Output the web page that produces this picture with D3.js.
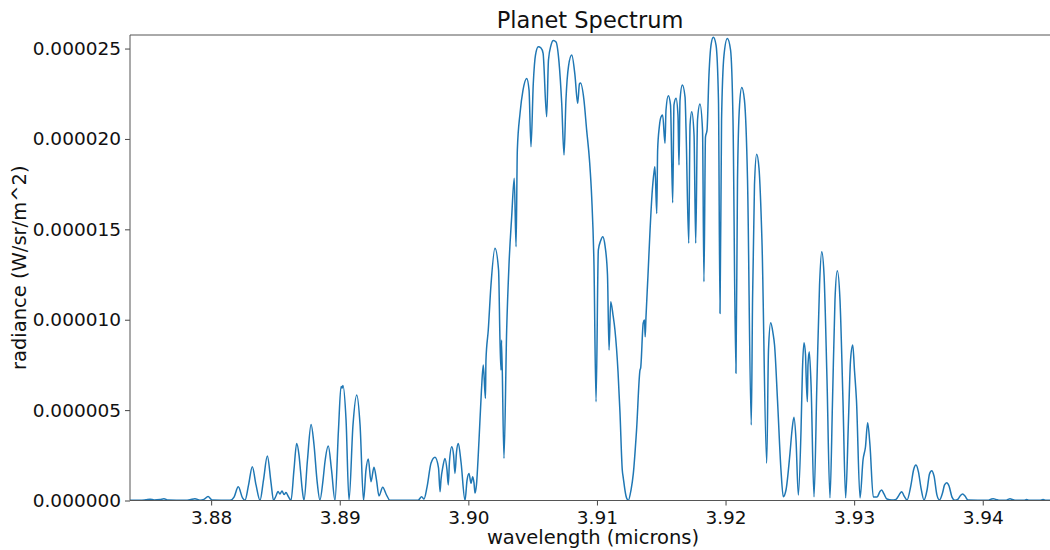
<!DOCTYPE html>
<html lang="en">
<head>
<meta charset="UTF-8">
<title>Planet Spectrum</title>
<script src="https://d3js.org/d3.v7.min.js"></script>
<style>
    body { margin: 0; background: #fff; }
    svg { display: block; font-family: "DejaVu Sans", sans-serif; }
    .tick text { font-family: "DejaVu Sans", sans-serif; font-size: 18.5px; fill: #111; }
    .tick line { stroke: #444; }
</style>
</head>
<body>
<svg width="1050" height="550"></svg>
<script>
    // wavelength (microns)
    const wavelength = [
        3.87369, 3.87447, 3.87493, 3.87525, 3.87556, 3.87602, 3.87633, 3.87665, 3.87797, 3.87836,
        3.87874, 3.87913, 3.87944, 3.87976, 3.88007, 3.88147, 3.88178, 3.88211, 3.88244, 3.88263,
        3.88291, 3.88320, 3.88349, 3.88380, 3.88407, 3.88437, 3.88465, 3.88485, 3.88504, 3.88520,
        3.88535, 3.88551, 3.88567, 3.88582, 3.88598, 3.88621, 3.88644, 3.88665, 3.88683, 3.88695,
        3.88707, 3.88722, 3.88749, 3.88777, 3.88800, 3.88823, 3.88846, 3.88870, 3.88885, 3.88911,
        3.88936, 3.88963, 3.88990, 3.89010, 3.89018, 3.89025, 3.89049, 3.89072, 3.89103, 3.89132,
        3.89158, 3.89185, 3.89204, 3.89222, 3.89243, 3.89266, 3.89286, 3.89305, 3.89334, 3.89360,
        3.89391, 3.89609, 3.89637, 3.89655, 3.89679, 3.89710, 3.89741, 3.89768, 3.89780, 3.89787,
        3.89803, 3.89818, 3.89834, 3.89844, 3.89853, 3.89871, 3.89885, 3.89896, 3.89908, 3.89922,
        3.89943, 3.89974, 3.89990, 3.90005, 3.90021, 3.90034, 3.90044, 3.90052, 3.90063, 3.90083,
        3.90102, 3.90116, 3.90133, 3.90137, 3.90155, 3.90176, 3.90207, 3.90235, 3.90246, 3.90254,
        3.90258, 3.90277, 3.90298, 3.90316, 3.90337, 3.90357, 3.90371, 3.90381, 3.90402, 3.90425,
        3.90454, 3.90472, 3.90487, 3.90505, 3.90522, 3.90544, 3.90565, 3.90581, 3.90609, 3.90623,
        3.90643, 3.90661, 3.90682, 3.90705, 3.90726, 3.90744, 3.90759, 3.90779, 3.90804, 3.90829,
        3.90850, 3.90864, 3.90872, 3.90899, 3.90920, 3.90942, 3.90959, 3.90977, 3.90993, 3.91011,
        3.91028, 3.91045, 3.91063, 3.91082, 3.91094, 3.91107, 3.91125, 3.91140, 3.91164, 3.91179,
        3.91197, 3.91205, 3.91226, 3.91244, 3.91265, 3.91283, 3.91308, 3.91335, 3.91340, 3.91360,
        3.91370, 3.91375, 3.91381, 3.91397, 3.91413, 3.91428, 3.91444, 3.91451, 3.91465, 3.91472,
        3.91485, 3.91498, 3.91511, 3.91529, 3.91537, 3.91555, 3.91572, 3.91589, 3.91599, 3.91615,
        3.91630, 3.91638, 3.91646, 3.91664, 3.91685, 3.91693, 3.91714, 3.91724, 3.91737, 3.91755,
        3.91768, 3.91782, 3.91801, 3.91821, 3.91832, 3.91844, 3.91856, 3.91871, 3.91887, 3.91905,
        3.91926, 3.91945, 3.91957, 3.91969, 3.91988, 3.92014, 3.92039, 3.92058, 3.92081, 3.92093,
        3.92109, 3.92126, 3.92147, 3.92171, 3.92200, 3.92210, 3.92225, 3.92242, 3.92260, 3.92283,
        3.92320, 3.92334, 3.92351, 3.92369, 3.92381, 3.92404, 3.92431, 3.92449, 3.92470, 3.92501,
        3.92517, 3.92532, 3.92548, 3.92566, 3.92587, 3.92598, 3.92610, 3.92622, 3.92626, 3.92636,
        3.92641, 3.92651, 3.92665, 3.92688, 3.92711, 3.92731, 3.92748, 3.92766, 3.92789, 3.92812,
        3.92832, 3.92851, 3.92869, 3.92890, 3.92913, 3.92934, 3.92956, 3.92972, 3.92989, 3.93003,
        3.93018, 3.93046, 3.93069, 3.93088, 3.93105, 3.93123, 3.93149, 3.93178, 3.93201, 3.93214,
        3.93232, 3.93255, 3.93294, 3.93325, 3.93349, 3.93370, 3.93388, 3.93411, 3.93442, 3.93462,
        3.93481, 3.93500, 3.93520, 3.93543, 3.93567, 3.93586, 3.93603, 3.93621, 3.93644, 3.93664,
        3.93687, 3.93703, 3.93720, 3.93738, 3.93761, 3.93784, 3.93808, 3.93827, 3.93844, 3.93862,
        3.93885, 3.94041, 3.94064, 3.94082, 3.94103, 3.94134, 3.94181, 3.94196, 3.94212, 3.94231,
        3.94259, 3.94321, 3.94342, 3.94360, 3.94445, 3.94469, 3.94492, 3.94523
    ];

    // radiance, in units of 1e-6 W/sr/m^2
    const radianceE6 = [
        0.01, 0.01, 0.04, 0.07, 0.03, 0.05, 0.10, 0.03, 0.01, 0.04,
        0.10, 0.02, 0.06, 0.22, 0.03, 0.01, 0.19, 0.76, 0.14, 0.01,
        0.86, 1.87, 0.86, 0.01, 1.13, 2.46, 1.02, 0.01, 0.25, 0.50,
        0.36, 0.53, 0.33, 0.44, 0.25, 0.01, 1.69, 3.16, 2.52, 1.63,
        0.69, 0.01, 2.24, 4.21, 3.07, 1.13, 0.03, 1.13, 2.13, 3.01,
        1.69, 0.01, 3.90, 6.31, 6.22, 6.36, 4.45, 0.03, 4.18, 5.84,
        4.18, 0.01, 1.69, 2.30, 1.04, 1.84, 1.13, 0.25, 0.73, 0.36,
        0.01, 0.01, 0.21, 0.08, 0.75, 2.07, 2.39, 1.80, 0.49, 1.13,
        1.91, 2.33, 1.69, 0.86, 2.13, 2.98, 2.52, 1.50, 2.68, 3.16,
        2.13, 0.01, 1.13, 1.50, 0.95, 1.32, 0.97, 0.41, 0.86, 3.35,
        6.11, 7.49, 5.65, 7.77, 9.43, 11.92, 13.95, 12.75, 8.88, 7.22,
        8.88, 2.33, 9.43, 13.03, 15.70, 17.82, 14.04, 19.39, 21.42, 22.70,
        23.35, 22.70, 19.57, 23.07, 24.64, 25.10, 25.03, 24.75, 21.23, 24.36,
        25.19, 25.45, 25.36, 24.25, 21.97, 19.11, 22.15, 24.03, 24.64, 23.53,
        21.97, 23.04, 23.09, 22.15, 20.49, 18.83, 16.80, 13.03, 5.46, 13.86,
        14.35, 14.59, 14.08, 12.47, 8.32, 11.00, 10.26, 9.43, 7.11, 4.89,
        1.69, 1.24, 0.25, 0.01, 0.58, 1.50, 3.90, 7.22, 7.33, 9.82,
        9.98, 9.06, 10.09, 12.47, 14.96, 16.90, 18.17, 18.46, 15.88, 19.39,
        20.67, 21.21, 21.32, 19.76, 21.60, 22.39, 21.88, 16.47, 21.88, 22.25,
        21.32, 18.56, 22.15, 22.98, 22.32, 20.49, 14.23, 20.77, 21.50, 20.22,
        14.23, 21.05, 21.93, 20.49, 12.10, 20.10, 20.49, 23.53, 25.19, 25.62,
        25.19, 22.15, 10.35, 21.05, 24.64, 25.56, 24.92, 21.05, 7.04, 17.73,
        21.88, 22.85, 22.15, 17.73, 4.18, 11.09, 17.45, 19.16, 18.39, 14.41,
        2.06, 8.32, 9.83, 9.26, 8.60, 5.56, 1.69, 0.21, 0.58, 2.61,
        3.90, 4.60, 3.35, 0.30, 3.90, 7.22, 8.73, 8.05, 7.05, 5.46,
        7.49, 8.23, 6.39, 0.21, 6.66, 11.92, 13.76, 12.47, 6.66, 0.15,
        5.56, 11.09, 12.71, 11.09, 5.56, 0.15, 4.45, 7.77, 8.60, 7.16,
        5.56, 0.14, 2.24, 2.96, 4.30, 3.07, 0.19, 0.19, 0.50, 0.58,
        0.36, 0.08, 0.03, 0.06, 0.30, 0.49, 0.25, 0.03, 0.86, 1.69,
        1.96, 1.58, 0.69, 0.03, 0.58, 1.47, 1.65, 1.36, 0.30, 0.03,
        0.41, 0.86, 0.98, 0.80, 0.19, 0.01, 0.08, 0.28, 0.36, 0.25,
        0.03, 0.01, 0.07, 0.10, 0.06, 0.01, 0.01, 0.06, 0.09, 0.05,
        0.01, 0.01, 0.05, 0.01, 0.01, 0.05, 0.01, 0.01
    ];

    const xTicks = [3.88, 3.89, 3.90, 3.91, 3.92, 3.93, 3.94];
    const yTicks = [0, 0.000005, 0.00001, 0.000015, 0.00002, 0.000025];

    const data = wavelength.map((w, i) => ({ w: w, r: radianceE6[i] * 1e-6 }));

    const plotLeft = 130, plotRight = 1050, plotTop = 35, plotBottom = 500.5;

    const svg = d3.select("svg");

    const x = d3.scaleLinear()
        .domain([3.87369, 3.94523])
        .range([plotLeft, plotRight]);

    const y = d3.scaleLinear()
        .domain([0, 0.00002575])
        .range([plotBottom, plotTop]);

    // clip so the line stays inside the axes
    svg.append("clipPath").attr("id", "plot")
        .append("rect")
        .attr("x", plotLeft).attr("y", plotTop)
        .attr("width", plotRight - plotLeft).attr("height", plotBottom - plotTop);

    const line = d3.line()
        .x(d => x(d.w))
        .y(d => y(d.r))
        .curve(d3.curveMonotoneX);

    svg.append("path")
        .datum(data)
        .attr("clip-path", "url(#plot)")
        .attr("fill", "none")
        .attr("stroke", "#1f77b4")
        .attr("stroke-width", 1.5)
        .attr("stroke-linejoin", "round")
        .attr("d", line);

    // axes
    const xAxis = svg.append("g")
        .attr("transform", `translate(0,${plotBottom})`)
        .call(d3.axisBottom(x).tickValues(xTicks).tickFormat(d3.format(".2f")).tickSize(5).tickPadding(5));

    const yAxis = svg.append("g")
        .attr("transform", `translate(${plotLeft},0)`)
        .call(d3.axisLeft(y).tickValues(yTicks).tickFormat(d3.format(".6f")).tickSize(5).tickPadding(4));

    xAxis.select(".domain").remove();
    yAxis.select(".domain").remove();

    // spines: left, bottom, top (right edge is cut off)
    const spine = "#555";
    svg.append("line").attr("x1", plotLeft).attr("x2", plotLeft).attr("y1", plotTop).attr("y2", plotBottom)
        .attr("stroke", spine).attr("stroke-width", 1);
    svg.append("line").attr("x1", plotLeft).attr("x2", plotRight).attr("y1", plotBottom).attr("y2", plotBottom)
        .attr("stroke", spine).attr("stroke-width", 1);
    svg.append("line").attr("x1", plotLeft).attr("x2", plotRight).attr("y1", plotTop).attr("y2", plotTop)
        .attr("stroke", spine).attr("stroke-width", 1);

    // title and labels
    svg.append("text")
        .attr("x", (plotLeft + plotRight) / 2)
        .attr("y", 28)
        .attr("text-anchor", "middle")
        .attr("font-size", 22.5)
        .attr("fill", "#111")
        .text("Planet Spectrum");

    svg.append("text")
        .attr("x", (plotLeft + plotRight) / 2 + 3)
        .attr("y", 544)
        .attr("text-anchor", "middle")
        .attr("font-size", 19.5)
        .attr("fill", "#111")
        .text("wavelength (microns)");

    svg.append("text")
        .attr("transform", `translate(26,${(plotTop + plotBottom) / 2}) rotate(-90)`)
        .attr("text-anchor", "middle")
        .attr("font-size", 19.5)
        .attr("fill", "#111")
        .text("radiance (W/sr/m^2)");
</script>
</body>
</html>
